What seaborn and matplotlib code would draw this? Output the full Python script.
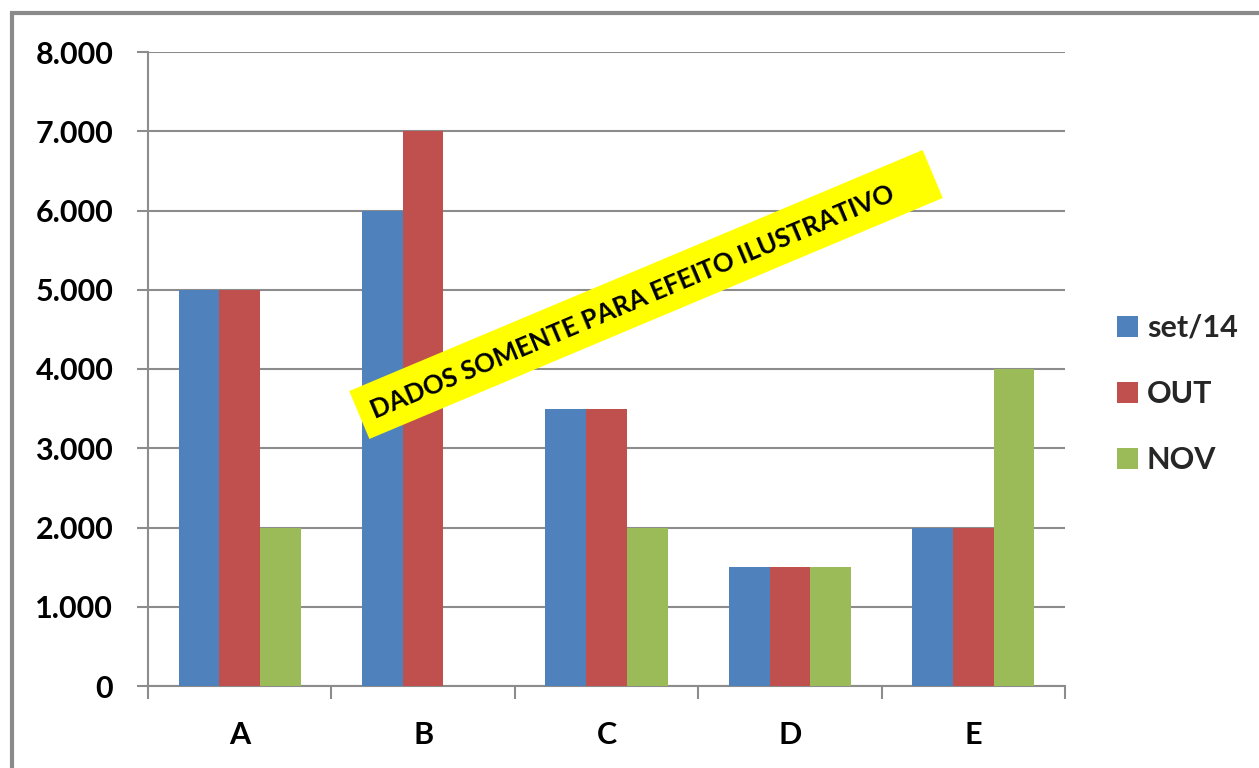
import numpy as np
import pandas as pd
import matplotlib
matplotlib.use("Agg")
import matplotlib.pyplot as plt
import matplotlib.transforms as mtransforms
from matplotlib.patches import Rectangle
import seaborn as sns

# ---- data ----
categories = ["A", "B", "C", "D", "E"]
series_names = ["set/14", "OUT", "NOV"]
set14 = [5000, 6000, 3500, 1500, 2000]
out = [5000, 7000, 3500, 1500, 2000]
nov = [2000, 0, 2000, 1500, 4000]
y_ticks = [0, 1000, 2000, 3000, 4000, 5000, 6000, 7000, 8000]
y_tick_labels = ["0", "1.000", "2.000", "3.000", "4.000", "5.000", "6.000", "7.000", "8.000"]
colors = ["#4F81BD", "#C0504D", "#9BBB59"]
watermark = "DADOS SOMENTE PARA EFEITO ILUSTRATIVO"

df = pd.DataFrame({
    "categoria": categories * 3,
    "serie": [series_names[0]] * 5 + [series_names[1]] * 5 + [series_names[2]] * 5,
    "valor": set14 + out + nov,
})

sns.set_theme(style="white")
plt.rcParams["font.family"] = ["Lato", "DejaVu Sans"]
plt.rcParams["font.weight"] = "bold"

W, H = 1259, 768
fig = plt.figure(figsize=(W / 100, H / 100), dpi=100)
fig.patch.set_facecolor("white")
ax = fig.add_axes([148 / W, 1 - 686 / H, (1065 - 148) / W, (686 - 52) / H])

sns.barplot(data=df, x="categoria", y="valor", hue="serie", order=categories,
            hue_order=series_names, palette=colors, width=0.667, gap=0,
            linewidth=0, saturation=1, ax=ax, errorbar=None, zorder=3)

ax.set_xlim(-0.5, 4.5)
ax.set_ylim(0, 8000)
ax.set_xlabel("")
ax.set_ylabel("")

gray = "#8C8C8C"
ax.set_yticks(y_ticks)
ax.set_yticklabels(y_tick_labels, fontsize=22, fontweight="bold", color="black")
ax.yaxis.grid(True, color=gray, linewidth=1.5, zorder=0)
ax.set_axisbelow(True)
ax.tick_params(axis="y", which="major", direction="out", length=8, width=1.5,
               color=gray, pad=17, left=True)

ax.set_xticks(range(len(categories)))
ax.set_xticklabels(categories, fontsize=22, fontweight="bold", color="black")
ax.set_xticks(np.arange(-0.5, len(categories) + 0.5, 1.0), minor=True)
ax.tick_params(axis="x", which="major", length=0, pad=25)
ax.tick_params(axis="x", which="minor", direction="out", length=9, width=1.5,
               color=gray, bottom=True)

for side in ["top", "right"]:
    ax.spines[side].set_visible(False)
for side in ["left", "bottom"]:
    ax.spines[side].set_color(gray)
    ax.spines[side].set_linewidth(1.5)

# legend
handles, labels = ax.get_legend_handles_labels()
leg = ax.legend(handles, labels, loc="center left",
                bbox_to_anchor=(1117 / W, 1 - 394 / H), bbox_transform=fig.transFigure,
                frameon=False, handlelength=0.68, handleheight=0.68,
                handletextpad=0.3, labelspacing=1.25, borderpad=0, borderaxespad=0,
                prop={"weight": "bold", "size": 22})

# watermark banner
cx, cy = 646, H - 294.5
L, T, ang = 622, 52, 22.8
tr = mtransforms.Affine2D().rotate_deg_around(cx, cy, ang).scale(1 / W, 1 / H) + fig.transFigure
fig.add_artist(Rectangle((cx - L / 2, cy - T / 2), L, T, transform=tr,
                         facecolor="#FFFF00", edgecolor="none", zorder=10))
fig.text(633 / W, (H - 302) / H, watermark, rotation=ang, rotation_mode="anchor",
         ha="center", va="center", fontsize=18.5, fontweight="bold", color="black",
         zorder=11)

# outer border
fig.add_artist(Rectangle((12 / W, -0.1), 1.2, (H - 13) / H + 0.1,
                         transform=fig.transFigure, fill=False,
                         edgecolor="#8A8A8A", linewidth=3, zorder=20))

fig.savefig("out.png", dpi=100)
